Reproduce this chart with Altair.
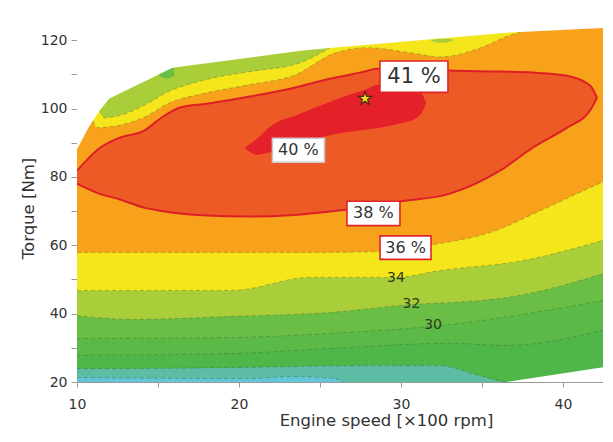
import altair as alt
import pandas as pd

# ---------------- data (engine speed [x100 rpm], torque [Nm]) ----------------
X_MIN, X_MAX = 10, 42.47
Y_MIN, Y_MAX = 20, 129.4

# max-torque envelope (upper limit of the map)
env_x = [10.0, 10.7, 11.4, 12.0, 15.9, 23.8, 25.6, 36.7, 43.1]
env_t = [88.0, 94.4, 99.4, 102.9, 111.9, 116.9, 117.7, 122.2, 123.7]
# lower limit at high speed
bot_x = [36.5, 43.1]
bot_t = [20.0, 24.8]

# efficiency iso-lines (lower family)
c24_x = [10.0, 20.7, 23.2, 25.9, 26.5]
c24_t = [21.3, 21.0, 21.6, 21.0, 20.0]
c26_x = [10.0, 19.4, 27.7, 32.4, 34.4, 36.5]
c26_t = [23.9, 24.2, 24.8, 24.8, 22.5, 20.0]
c28_x = [10.0, 19.4, 25.6, 33.0, 36.5, 43.1]
c28_t = [27.8, 28.3, 29.8, 31.3, 30.7, 35.9]
c30_x = [10.0, 19.4, 25.6, 32.4, 43.1]
c30_t = [32.7, 33.0, 34.2, 36.5, 44.4]
c32_x = [10.0, 13.5, 19.6, 25.6, 30.7, 33.0, 36.5, 43.1]
c32_t = [39.4, 38.3, 39.2, 40.3, 42.7, 43.2, 44.7, 52.6]
c34_x = [10.0, 19.6, 24.4, 29.7, 32.4, 37.5, 43.1]
c34_t = [46.8, 46.8, 50.6, 50.6, 52.6, 55.5, 62.3]
c36_x = [10.0, 24.4, 28.7, 32.4, 35.5, 38.6, 41.7, 43.1]
c36_t = [57.9, 57.9, 58.2, 60.5, 63.7, 70.1, 76.9, 79.8]

# iso-lines near the max-torque curve (upper family)
t34_x = [11.4, 11.7, 14.1, 15.4, 18.0, 20.7, 23.8, 25.0, 25.6]
t34_t = [99.4, 97.3, 100.8, 104.4, 108.5, 110.8, 113.4, 116.1, 117.7]
t36_x = [11.0, 11.2, 14.1, 15.6, 18.0, 20.7, 23.5, 25.8, 27.9, 30.6, 32.4, 35.1, 36.5, 37.35]
t36_t = [96.3, 94.4, 97.3, 101.4, 104.6, 107.0, 109.9, 116.0, 117.8, 116.3, 115.1, 118.1, 121.0, 122.3]

# closed 38 % island
i38_x = [10.0, 11.36, 12.65, 14.14, 15.12, 16.36, 18.02, 20.68, 23.15, 25.62, 27.47,
         28.70, 29.94, 33.02, 36.11, 38.15, 40.25, 41.67, 42.10]
i38_hi = [81.8, 88.3, 91.5, 93.5, 97.0, 100.3, 101.4, 103.5, 105.8, 108.7, 110.5,
          111.7, 111.7, 111.1, 110.8, 110.5, 109.6, 106.7, 103.2]
i38_lo = [78.0, 75.1, 73.4, 71.0, 70.1, 69.3, 68.7, 68.4, 68.8, 69.9, 71.0,
          71.9, 72.8, 75.1, 81.8, 88.6, 94.4, 99.4, 103.2]

# closed 40 % island
i40_x = [20.37, 21.11, 21.91, 23.77, 25.80, 26.85, 27.78, 28.70, 29.94, 30.86, 31.36, 31.54]
i40_hi = [88.6, 91.2, 94.7, 98.5, 102.3, 104.1, 105.5, 107.0, 107.0, 105.8, 103.8, 101.7]
i40_lo = [88.3, 86.5, 87.1, 89.7, 92.4, 93.2, 93.8, 94.4, 95.6, 97.0, 99.4, 101.7]

# small patches near the top
s1_x = [14.9, 15.5, 16.0]
s1_lo = [110.3, 108.8, 109.6]
s1_hi = [110.3, 111.6, 111.9]
s2_x = [31.8, 32.5, 33.2]
s2_lo = [119.9, 119.2, 119.9]
s2_hi = [119.9, 120.4, 120.3]

# best point
best_x = [27.78]
best_t = [102.9]

# labels
box_text = ["41 %", "40 %", "38 %", "36 %"]
box_x = [30.80, 23.67, 28.30, 30.28]
box_t = [109.3, 87.8, 69.3, 59.3]
iso_text = ["34", "32", "30"]
iso_x = [29.69, 30.65, 31.98]
iso_t = [50.4, 42.7, 36.8]

# ---------------- styles ----------------
C_CYAN = "#63C5D8"
C_TEAL = "#5CBDA4"
C_G26 = "#4FB64A"
C_G28 = "#5AB947"
C_G30 = "#6BBE45"
C_YG = "#AACE3A"
C_YEL = "#F4E61B"
C_ORA = "#F8A21C"
C_R38 = "#EE5A26"
C_R40 = "#E42128"
FONT = "DejaVu Sans"

box_font = [21, 16, 16, 16]
box_w = [68, 52, 53, 51]
box_stroke = ["#E0242B", "#C8C8C8", "#E0242B", "#E0242B"]

xscale = alt.Scale(domain=[X_MIN, X_MAX], nice=False, zero=False)
yscale = alt.Scale(domain=[Y_MIN, Y_MAX], nice=False, zero=False)

x_axis = alt.Axis(values=[10, 15, 20, 25, 30, 35, 40],
                  labelExpr="datum.value % 10 == 0 ? datum.label : ''",
                  title="Engine speed [×100 rpm]", grid=False, tickSize=5,
                  labelPadding=10, titlePadding=1, titleX=309, labelFlush=False,
                  domainColor="#9a9a9a", tickColor="#9a9a9a")
y_axis = alt.Axis(values=list(range(20, 130, 10)),
                  labelExpr="datum.value % 20 == 0 ? datum.label : ''",
                  title="Torque [Nm]", grid=False, tickSize=6, labelFlush=False,
                  labelPadding=4, titlePadding=4, titleY=200,
                  domainColor="#cfcfcf", tickColor="#9a9a9a")


def X(field="x"):
    return alt.X(f"{field}:Q", scale=xscale, axis=x_axis)


def Y(field):
    return alt.Y(f"{field}:Q", scale=yscale, axis=y_axis)


def region(xs, lo, color, hi=None, interp="monotone"):
    df = pd.DataFrame({"x": xs, "lo": lo})
    if hi is None:
        y2 = alt.datum(Y_MAX)
    else:
        df["hi"] = hi
        y2 = alt.Y2("hi:Q")
    return alt.Chart(df).mark_area(color=color, interpolate=interp, clip=True,
                                   opacity=1).encode(x=X(), y=Y("lo"), y2=y2)


def below(xs, ts, color):
    df = pd.DataFrame({"x": xs, "lo": ts})
    return alt.Chart(df).mark_area(color=color, interpolate="linear", clip=True).encode(
        x=X(), y=Y("lo"), y2=alt.datum(Y_MIN))


layers = [
    region([X_MIN, 43.1], [Y_MIN, Y_MIN], C_CYAN, interp="linear"),
    region(c24_x + [43.1], c24_t + [20.0], C_TEAL),
    region(c26_x + [43.1], c26_t + [20.0], C_G26),
    region(c28_x, c28_t, C_G28),
    region(c30_x, c30_t, C_G30),
    region(c32_x, c32_t, C_YG),
    region(c34_x, c34_t, C_YEL),
    region(c36_x, c36_t, C_ORA),
    region(t36_x, t36_t, C_YEL),
    region(t34_x, t34_t, C_YG),
    region(s1_x, s1_lo, C_G30, hi=s1_hi),
    region(s2_x, s2_lo, C_YG, hi=s2_hi),
    region(i38_x, i38_lo, C_R38, hi=i38_hi),
    region(i40_x, i40_lo, C_R40, hi=i40_hi),
]

# thin dashed iso-lines
rows = []
for name, xs, ts in [("c24", c24_x, c24_t), ("c26", c26_x, c26_t), ("c28", c28_x, c28_t),
                     ("c30", c30_x, c30_t), ("c32", c32_x, c32_t), ("c34", c34_x, c34_t),
                     ("c36", c36_x, c36_t), ("t34", t34_x, t34_t), ("t36", t36_x, t36_t)]:
    for xv, tv in zip(xs, ts):
        rows.append({"g": name, "x": xv, "t": tv})
iso_df = pd.DataFrame(rows)
layers.append(alt.Chart(iso_df).mark_line(interpolate="monotone", color="#3b5a2e",
                                          strokeWidth=0.8, strokeDash=[4, 3],
                                          opacity=0.45, clip=True).encode(
    x=X(), y=Y("t"), detail="g:N"))

# red outline of the 38 % island
o_rows = []
for xv, h, l in zip(i38_x, i38_hi, i38_lo):
    o_rows.append({"g": "hi", "x": xv, "t": h})
    o_rows.append({"g": "lo", "x": xv, "t": l})
layers.append(alt.Chart(pd.DataFrame(o_rows)).mark_line(
    interpolate="monotone", color="#DC1F26", strokeWidth=2, clip=True).encode(
    x=X(), y=Y("t"), detail="g:N"))

# white masks outside the operating range
layers.append(alt.Chart(pd.DataFrame({"x": env_x, "lo": env_t})).mark_area(
    color="white", interpolate="linear", clip=True).encode(
    x=X(), y=Y("lo"), y2=alt.datum(Y_MAX)))
layers.append(below(bot_x, bot_t, "white"))

# label boxes
box_df = pd.DataFrame({"x": box_x, "t": box_t, "label": box_text,
                       "fs": box_font, "sz": [w * w for w in box_w], "st": box_stroke})
layers.append(alt.Chart(box_df).mark_point(
    shape="M-1,-0.46L1,-0.46L1,0.46L-1,0.46Z", filled=True, fill="white",
    strokeWidth=1.6, opacity=1).encode(
    x=X(), y=Y("t"), size=alt.Size("sz:Q", scale=None, legend=None),
    stroke=alt.Stroke("st:N", scale=None, legend=None)))
layers.append(alt.Chart(box_df).mark_text(
    font=FONT, color="#333333", align="center", baseline="middle").encode(
    x=X(), y=Y("t"), text="label:N", size=alt.Size("fs:Q", scale=None, legend=None)))

iso_lab = pd.DataFrame({"x": iso_x, "t": iso_t, "label": iso_text})
layers.append(alt.Chart(iso_lab).mark_text(
    font=FONT, fontSize=14, color="#2f3b22", align="center", baseline="middle").encode(
    x=X(), y=Y("t"), text="label:N"))

star = "M0,-1L0.2245,-0.309L0.9511,-0.309L0.3633,0.118L0.5878,0.809L0,0.382L-0.5878,0.809L-0.3633,0.118L-0.9511,-0.309L-0.2245,-0.309Z"
layers.append(alt.Chart(pd.DataFrame({"x": best_x, "t": best_t})).mark_point(
    shape=star, filled=True, fill="#F2E21B", stroke="#4a2a10", strokeWidth=1.2,
    size=190, opacity=1).encode(x=X(), y=Y("t")))

chart = alt.layer(*layers).properties(
    width=526, height=374,
    padding={"left": 69, "top": 0, "right": 0, "bottom": 48},
    autosize=alt.AutoSizeParams(type="none"),
).configure_view(stroke="#d6d6d6", strokeWidth=1).configure_axis(
    labelFont=FONT, titleFont=FONT, labelFontSize=14, titleFontSize=16.5,
    titleFontWeight="normal", labelColor="#333333", titleColor="#333333")

chart.save("out.html", embed_options={"renderer": "svg", "actions": False})
